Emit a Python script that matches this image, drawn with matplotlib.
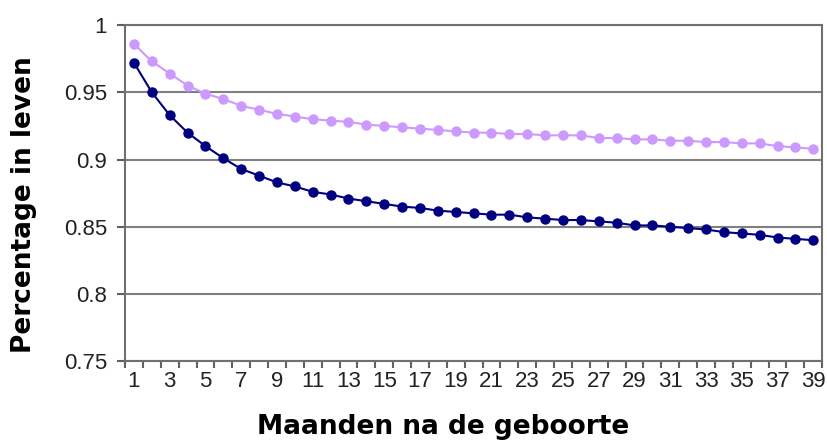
import numpy as np
import matplotlib.pyplot as plt
from matplotlib.ticker import FixedLocator

# Maanden na de geboorte
months = list(range(1, 40))

# Licht paars (bovenste lijn)
survival_light = [0.986, 0.973, 0.964, 0.955, 0.949, 0.945, 0.940, 0.937, 0.934, 0.932,
                  0.930, 0.929, 0.928, 0.926, 0.925, 0.924, 0.923, 0.922, 0.921, 0.920,
                  0.920, 0.919, 0.919, 0.918, 0.918, 0.918, 0.916, 0.916, 0.915, 0.915,
                  0.914, 0.914, 0.913, 0.913, 0.912, 0.912, 0.910, 0.909, 0.908]

# Donkerblauw (onderste lijn)
survival_dark = [0.972, 0.950, 0.933, 0.920, 0.910, 0.901, 0.893, 0.888, 0.883, 0.880,
                 0.876, 0.874, 0.871, 0.869, 0.867, 0.865, 0.864, 0.862, 0.861, 0.860,
                 0.859, 0.859, 0.857, 0.856, 0.855, 0.855, 0.854, 0.853, 0.851, 0.851,
                 0.850, 0.849, 0.848, 0.846, 0.845, 0.844, 0.842, 0.841, 0.840]

y_ticks = [0.75, 0.8, 0.85, 0.9, 0.95, 1]
y_labels = ["0.75", "0.8", "0.85", "0.9", "0.95", "1"]

fig = plt.figure(figsize=(8.28, 4.41), dpi=100)
ax = fig.add_axes([0.151, 0.181, 0.842, 0.762])

ax.plot(months, survival_light, color="#CC99FF", linewidth=1.5, marker="o",
        markersize=7.5, markeredgewidth=0, zorder=3)
ax.plot(months, survival_dark, color="#000080", linewidth=1.5, marker="o",
        markersize=7.5, markeredgewidth=0, zorder=4)

ax.set_xlim(0.5, 39.5)
ax.set_ylim(0.75, 1)

ax.set_yticks(y_ticks)
ax.set_yticklabels(y_labels, fontsize=16, family="Liberation Sans", color="#222222")
ax.yaxis.grid(True, color="#808080", linewidth=1.5)
ax.set_axisbelow(True)

ax.set_xticks(months[::2])
ax.set_xticklabels([str(m) for m in months[::2]], fontsize=16, family="Liberation Sans",
                   color="#222222")
ax.xaxis.set_minor_locator(FixedLocator(np.arange(0.5, 40, 1)))
ax.tick_params(axis="x", which="major", length=0, pad=7)
ax.tick_params(axis="x", which="minor", length=5, width=1.5, color="#606060")
ax.tick_params(axis="y", length=6, width=1.5, color="#606060", pad=7)

for s in ax.spines.values():
    s.set_color("#707070")
    s.set_linewidth(1.5)

ax.set_ylabel("Percentage in leven", fontsize=19, fontweight="bold")
ax.set_xlabel("Maanden na de geboorte", fontsize=19, fontweight="bold")
ax.yaxis.set_label_coords(-(125 - 24) / 697, 0.467)
ax.xaxis.set_label_coords(0.456, -(427 - 361) / 336)
ax.xaxis.label.set_verticalalignment("center")
ax.yaxis.label.set_verticalalignment("center")

fig.savefig("out.png", dpi=100)
